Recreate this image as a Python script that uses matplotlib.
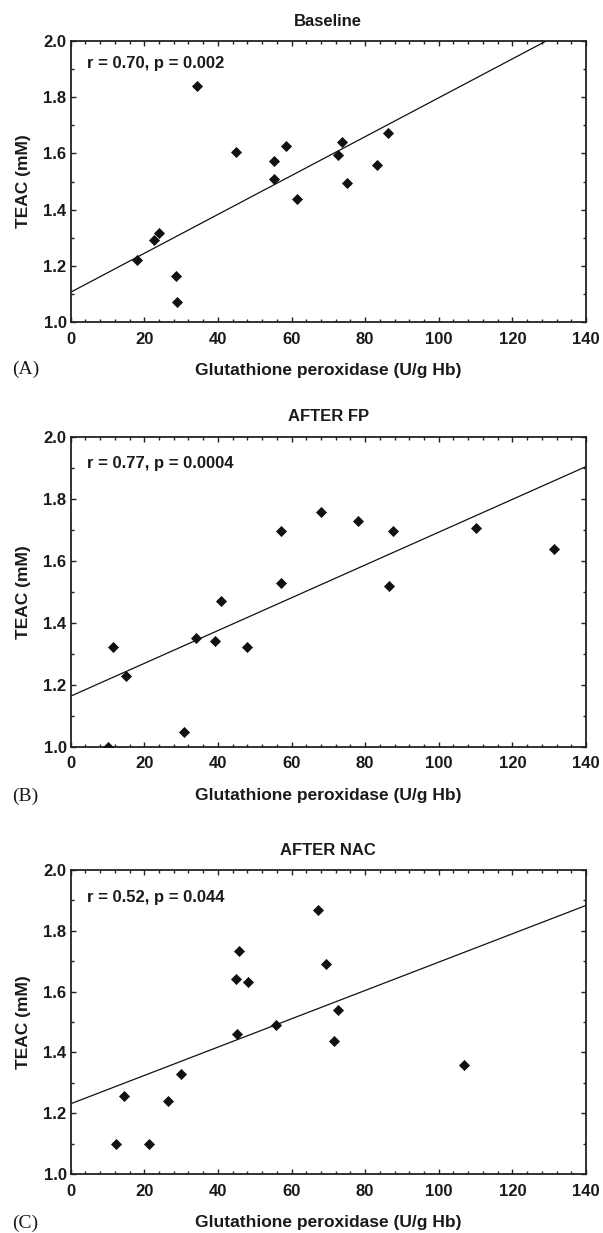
import matplotlib
matplotlib.use("Agg")
import matplotlib.pyplot as plt
from matplotlib.ticker import MultipleLocator

# ---------------- data ----------------
titles = ["Baseline", "AFTER FP", "AFTER NAC"]
panel_letters = ["(A)", "(B)", "(C)"]
stats_text = ["r = 0.70, p = 0.002", "r = 0.77, p = 0.0004", "r = 0.52, p = 0.044"]

gpx_a = [18.1, 22.7, 24.0, 28.5, 28.9, 34.4, 44.8, 55.1, 55.2, 58.5, 61.5, 72.5, 73.7, 75.0, 83.3, 86.3]
teac_a = [1.222, 1.293, 1.317, 1.163, 1.071, 1.840, 1.605, 1.572, 1.508, 1.628, 1.436, 1.593, 1.640, 1.496, 1.557, 1.671]

gpx_b = [10.0, 11.6, 14.9, 30.8, 34.1, 39.1, 40.8, 48.0, 57.2, 57.2, 68.1, 78.1, 86.4, 87.6, 110.2, 131.4]
teac_b = [1.000, 1.322, 1.227, 1.048, 1.351, 1.341, 1.470, 1.322, 1.697, 1.529, 1.756, 1.727, 1.517, 1.697, 1.706, 1.638]

gpx_c = [12.4, 14.4, 21.2, 26.5, 29.9, 44.9, 45.3, 45.8, 48.3, 55.8, 67.1, 69.3, 71.4, 72.6, 106.9]
teac_c = [1.100, 1.255, 1.100, 1.241, 1.328, 1.641, 1.460, 1.732, 1.631, 1.489, 1.869, 1.691, 1.439, 1.540, 1.357]

# regression lines: (intercept, slope)
fit_intercepts = [1.106, 1.163, 1.231]
fit_slopes = [0.00692, 0.00529, 0.00466]

xs_all = [gpx_a, gpx_b, gpx_c]
ys_all = [teac_a, teac_b, teac_c]

x_ticks = [0, 20, 40, 60, 80, 100, 120, 140]
y_ticks = [1.0, 1.2, 1.4, 1.6, 1.8, 2.0]

# ---------------- layout ----------------
W, H = 603, 1233
fig = plt.figure(figsize=(W / 100, H / 100), dpi=100)

left_px, right_px = 70.7, 586.0
panels_px = [(41.0, 322.0), (436.7, 746.7), (870.0, 1174.0)]  # (top, bottom)
letter_y_px = [369, 796, 1223]
stats_y = [1.92, 1.915, 1.91]

txt_color = "#1a1a1a"
bold = dict(family="Liberation Sans", weight="bold", color=txt_color)

for i in range(3):
    top, bot = panels_px[i]
    ax = fig.add_axes([left_px / W, 1 - bot / H, (right_px - left_px) / W, (bot - top) / H])
    ax.scatter(xs_all[i], ys_all[i], marker="D", s=32, color="#111111", zorder=3, linewidths=0)
    lx = [0, 140]
    ly = [fit_intercepts[i] + fit_slopes[i] * v for v in lx]
    ax.plot(lx, ly, color="#111111", lw=0.9, zorder=2)

    ax.set_xlim(0, 140)
    ax.set_ylim(1.0, 2.0)
    ax.set_xticks(x_ticks)
    ax.set_yticks(y_ticks)
    ax.set_xticklabels([str(v) for v in x_ticks])
    ax.set_yticklabels([f"{v:.1f}" for v in y_ticks])
    ax.xaxis.set_minor_locator(MultipleLocator(4))
    ax.yaxis.set_minor_locator(MultipleLocator(0.1))
    ax.tick_params(which="both", direction="in", top=True, right=True, color="#222222", width=1.0)
    ax.tick_params(which="major", length=3.5)
    ax.tick_params(which="minor", length=2.2)
    ax.tick_params(axis="x", which="major", pad=7)
    ax.tick_params(axis="y", which="major", pad=3)
    for lab in ax.get_xticklabels() + ax.get_yticklabels():
        lab.set_fontfamily("Liberation Sans")
        lab.set_fontweight("bold")
        lab.set_fontsize(12)
        lab.set_color(txt_color)
    for sp in ax.spines.values():
        sp.set_linewidth(1.3)
        sp.set_color("#222222")

    ax.set_title(titles[i], fontsize=12, pad=11, **bold)
    ax.set_ylabel("TEAC (mM)", fontsize=12.5, labelpad=9, **bold)
    ax.set_xlabel("Glutathione peroxidase (U/g Hb)", fontsize=12.5, labelpad=12, **bold)
    ax.text(4.5, stats_y[i], stats_text[i], fontsize=12, va="center", ha="left", **bold)

    fig.text(12 / W, 1 - letter_y_px[i] / H, panel_letters[i], family="Liberation Serif",
             fontsize=14, color=txt_color, ha="left", va="center")

fig.savefig("out.png", dpi=100)
